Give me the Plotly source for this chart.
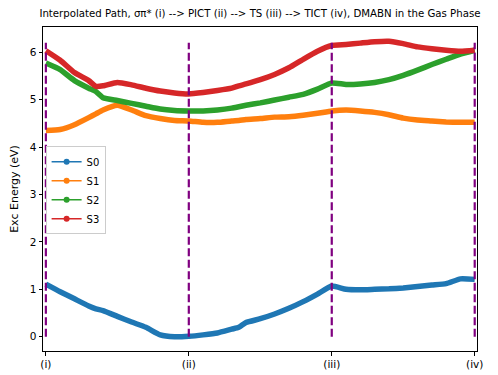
import plotly.graph_objects as go

# path coordinate (0 = (i), 1 = (ii), 2 = (iii), 3 = (iv))
x_path = [0.0, 0.1, 0.2, 0.3, 0.35, 0.4, 0.5, 0.6, 0.7, 0.8, 0.9, 1.0,
          1.1, 1.2, 1.3, 1.35, 1.4, 1.5, 1.6, 1.7, 1.8, 1.9, 2.0,
          2.1, 2.2, 2.3, 2.4, 2.5, 2.6, 2.7, 2.8, 2.9, 3.0]

s0 = [1.11, 0.95, 0.80, 0.65, 0.59, 0.55, 0.43, 0.31, 0.20, 0.04, 0.00, 0.01,
      0.04, 0.08, 0.16, 0.20, 0.30, 0.38, 0.48, 0.60, 0.74, 0.90, 1.07,
      1.00, 0.99, 1.00, 1.01, 1.03, 1.06, 1.09, 1.12, 1.22, 1.21]
s1 = [4.35, 4.37, 4.47, 4.62, 4.70, 4.78, 4.88, 4.78, 4.66, 4.60, 4.56, 4.55,
      4.52, 4.52, 4.55, 4.56, 4.58, 4.60, 4.63, 4.64, 4.67, 4.71, 4.76,
      4.78, 4.76, 4.73, 4.68, 4.61, 4.57, 4.55, 4.53, 4.52, 4.52]
s2 = [5.77, 5.63, 5.40, 5.24, 5.17, 5.04, 4.98, 4.92, 4.86, 4.80, 4.77, 4.76,
      4.76, 4.78, 4.82, 4.85, 4.88, 4.93, 4.99, 5.05, 5.11, 5.22, 5.35,
      5.32, 5.33, 5.36, 5.42, 5.51, 5.62, 5.74, 5.85, 5.96, 6.04]
s3 = [6.03, 5.83, 5.57, 5.40, 5.28, 5.29, 5.36, 5.31, 5.24, 5.18, 5.14, 5.12,
      5.15, 5.19, 5.24, 5.29, 5.33, 5.42, 5.53, 5.67, 5.85, 6.02, 6.14,
      6.16, 6.19, 6.22, 6.23, 6.18, 6.11, 6.07, 6.04, 6.02, 6.04]

series_names = ["S0", "S1", "S2", "S3"]
series_values = [s0, s1, s2, s3]
series_colors = ["#1f77b4", "#ff7f0e", "#2ca02c", "#d62728"]

tick_positions = [0, 1, 2, 3]
tick_labels = ["(i)", "(ii)", "(iii)", "(iv)"]
vline_bottom = 0.0
vline_top = 6.2

title_text = ("Interpolated Path, σπ* (i) --> PICT (ii) --> TS (iii) --> "
              "TICT (iv), DMABN in the Gas Phase")

fig = go.Figure()

# thick bands (dense markers in the original)
for name, vals, col in zip(series_names, series_values, series_colors):
    fig.add_trace(go.Scatter(x=x_path, y=vals, mode="lines",
                             line=dict(color=col, width=5.5, shape="spline",
                                       smoothing=0.5),
                             showlegend=False, hoverinfo="skip"))

# vertical dashed lines
for xp in tick_positions:
    fig.add_trace(go.Scatter(x=[xp, xp], y=[vline_bottom, vline_top], mode="lines",
                             line=dict(color="#800080", width=2.2, dash="8px,3.5px"),
                             showlegend=False, hoverinfo="skip"))

# legend entries (thin line + marker)
for name, col in zip(series_names, series_colors):
    fig.add_trace(go.Scatter(x=[None], y=[None], mode="lines+markers", name=name,
                             line=dict(color=col, width=1.5),
                             marker=dict(color=col, size=6)))

font_family = "DejaVu Sans"
fig.update_layout(
    width=498, height=375,
    margin=dict(l=43, r=21, t=27, b=24, autoexpand=False),
    paper_bgcolor="white", plot_bgcolor="white",
    font=dict(family=font_family, size=10.5, color="black"),
    title=dict(text=title_text, x=0.522, xanchor="center", y=0.963,
               yanchor="middle", font=dict(size=10.2, family=font_family)),
    showlegend=True,
    legend=dict(x=0.006, y=0.632, xanchor="left", yanchor="top",
                bgcolor="rgba(255,255,255,0.8)", bordercolor="#cccccc",
                borderwidth=1, font=dict(size=10), tracegroupgap=0,
                itemwidth=30),
    xaxis=dict(range=[-0.02, 3.016], tickvals=tick_positions, ticktext=tick_labels,
               showgrid=False, zeroline=False, showline=True, linecolor="black",
               linewidth=1, mirror=True, ticks="outside", ticklen=3.5,
               tickcolor="black", automargin=False),
    yaxis=dict(range=[-0.30, 6.53], tickvals=[0, 1, 2, 3, 4, 5, 6],
               showgrid=False, zeroline=False, showline=True, linecolor="black",
               linewidth=1, mirror=True, ticks="outside", ticklen=3.5,
               tickcolor="black", automargin=False,
               title=dict(text="Exc Energy (eV)", standoff=8,
                          font=dict(size=11))),
)

fig.write_html("out.html")
